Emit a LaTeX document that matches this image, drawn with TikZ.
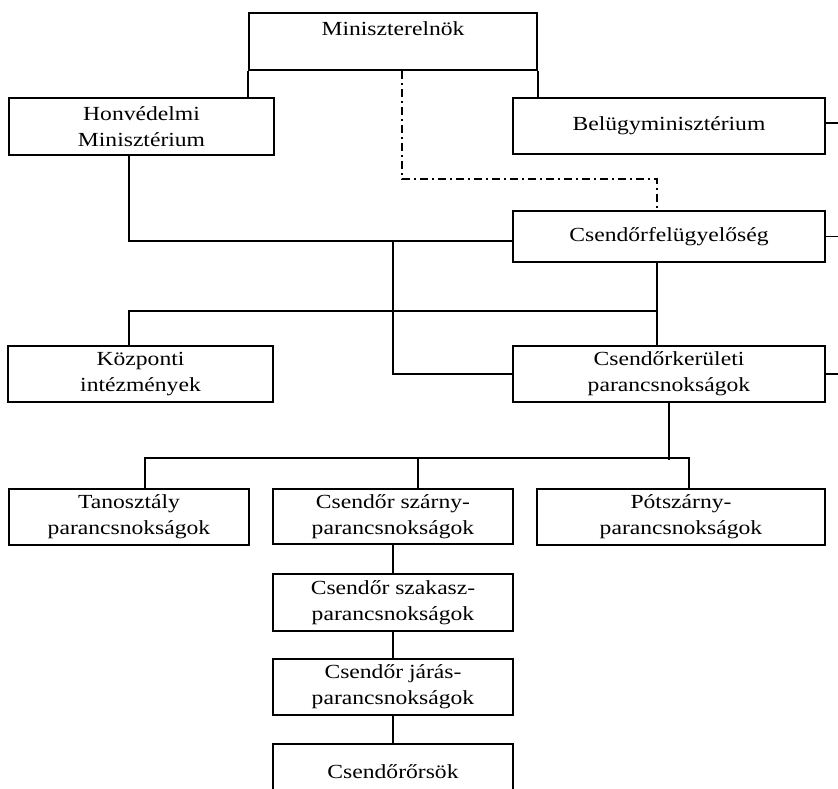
\documentclass[tikz,border=0pt]{standalone}
\usepackage{fontspec}
\setmainfont[FakeStretch=1.18]{Liberation Serif}
\begin{document}
\begin{tikzpicture}[x=1pt,y=-1pt,line width=1.9pt,
  unit/.style={draw,line width=2.4pt,rectangle,align=center,inner sep=0pt,
    font=\fontsize{20}{26}\selectfont},
  oversight/.style={dash pattern=on 8pt off 4pt on 2pt off 4pt}]
\useasboundingbox (0,0) rectangle (838,789);

 % units
 \node[unit,minimum width=288pt,minimum height=57pt] (min) at (393,41.5) {Miniszterelnök\\\mbox{}};
 \node[unit,minimum width=265pt,minimum height=57pt] (honv) at (141.5,126.5) {Honvédelmi\\Minisztérium};
 \node[unit,minimum width=312pt,minimum height=56pt] (belugy) at (669,126) {Belügyminisztérium};
 \node[unit,minimum width=312pt,minimum height=51pt] (csfel) at (669,236.5) {Csendőrfelügyelőség};
 \node[unit,minimum width=265pt,minimum height=56pt] (kozp) at (140.5,374) {Központi\\intézmények};
 \node[unit,minimum width=312pt,minimum height=56pt] (csker) at (669,374) {Csendőrkerületi\\parancsnokságok};
 \node[unit,minimum width=240pt,minimum height=56pt] (tan) at (129,517) {Tanosztály\\parancsnokságok};
 \node[unit,minimum width=240pt,minimum height=55pt] (szarny) at (393,516.5) {Csendőr szárny-\\parancsnokságok};
 \node[unit,minimum width=288pt,minimum height=56pt] (pot) at (681,517) {Pótszárny-\\parancsnokságok};
 \node[unit,minimum width=240pt,minimum height=57pt] (szakasz) at (393,602.5) {Csendőr szakasz-\\parancsnokságok};
 \node[unit,minimum width=240pt,minimum height=56pt] (jaras) at (393,687) {Csendőr járás-\\parancsnokságok};
 \node[unit,minimum width=240pt,minimum height=56pt] (orsok) at (393,772) {Csendőrőrsök};

 \coordinate (edge) at (838,0);
 \coordinate (hj) at (393,241);
 \coordinate (kj) at (657,311);

 % top level
 \draw (min.south west) -- (min.south west |- honv.north);
 \draw (min.south east) -- (min.south east |- belugy.north);
 \draw[oversight] ([xshift=9pt]min.south) -- ++(0,108) -| ([xshift=-12pt]csfel.north);

 % gendarmerie
 \draw ([xshift=-12.5pt]honv.south) |- ([yshift=-4.5pt]csfel.west);
 \draw (hj) |- (csker.west);
 \draw ([xshift=-12pt]csfel.south) -- ([xshift=-12pt]csker.north);
 \draw (kj) -| ([xshift=-11.5pt]kozp.north);

 % districts
 \draw (csker.south) -- ++(0,57);
 \draw ([xshift=16pt]tan.north) -- ++(0,-30) -| ([xshift=8pt]pot.north);
 \draw ([xshift=25pt]szarny.north) -- ++(0,-30);
 \draw (szarny) -- (szakasz);
 \draw (szakasz) -- (jaras);
 \draw (jaras) -- (orsok);

 % to the right edge
 \draw ([yshift=3pt]belugy.east) -- ([yshift=3pt]belugy.east -| edge);
 \draw (csfel.east) -- (csfel.east -| edge);
 \draw (csker.east) -- (csker.east -| edge);
\end{tikzpicture}
\end{document}
